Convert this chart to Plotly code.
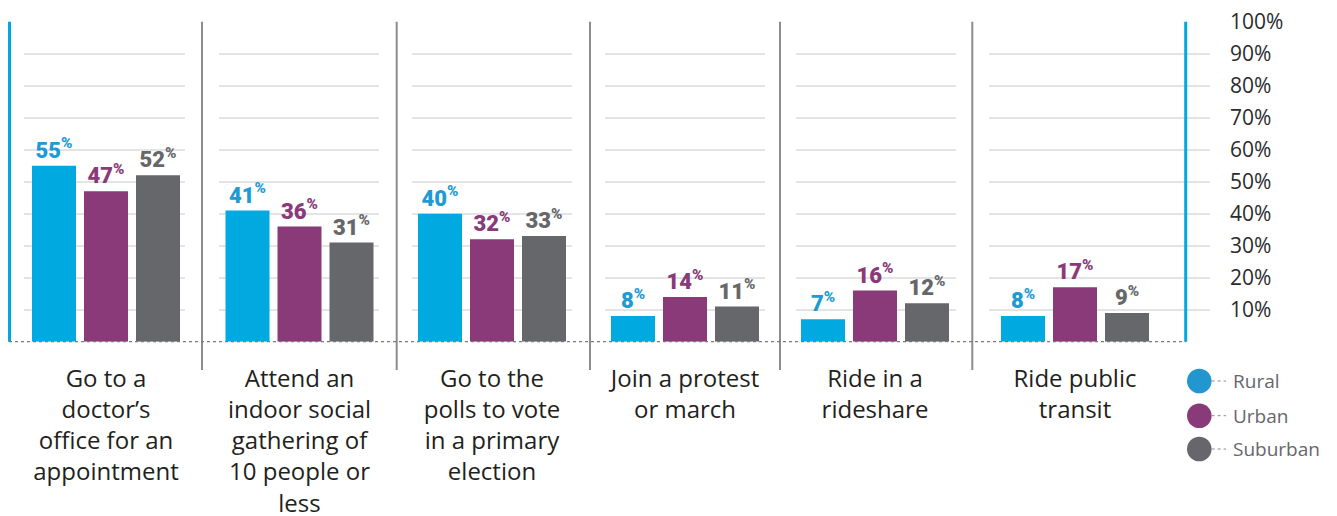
import textwrap
import plotly.graph_objects as go

# ---- data -------------------------------------------------------------
categories = [
    "Go to a doctor’s office for an appointment",
    "Attend an indoor social gathering of 10 people or less",
    "Go to the polls to vote in a primary election",
    "Join a protest or march",
    "Ride in a rideshare",
    "Ride public transit",
]
series_names = ["Rural", "Urban", "Suburban"]
rural = [55, 41, 40, 8, 7, 8]
urban = [47, 36, 32, 14, 16, 17]
suburban = [52, 31, 33, 11, 12, 9]
tick_values = [10, 20, 30, 40, 50, 60, 70, 80, 90, 100]
tick_labels = ["10%", "20%", "30%", "40%", "50%", "60%", "70%", "80%", "90%", "100%"]

series_values = [rural, urban, suburban]

# ---- styling ----------------------------------------------------------
bar_colors = ["#00a9df", "#8a3a79", "#66676b"]
label_colors = ["#1e9bd5", "#8a3a79", "#66676b"]
legend_colors = ["#2196cf", "#893a78", "#66666c"]
TEXT_FONT = "Open Sans"
VALUE_FONT = "Roboto Black, Roboto"

W, H = 1337, 516


def px(x):
    return x / W


def py(y):
    return 1 - y / H


Y_TOP, Y_BASE = 21.7, 341.7
Y_DOMAIN = [py(Y_BASE), py(Y_TOP)]

# panel extents (gridline span) and group centres, in pixels
panel_spans = [(24, 185), (219, 379), (412, 572), (605, 765), (796, 956), (989, 1210)]
panel_centres = [106, 299.5, 492, 685, 875, 1075]
GROUP_PX = 156  # width of one category slot (3 bars of 44px + gaps)

wrapped = ["<br>".join(textwrap.wrap(c, width=14)) for c in categories]

fig = go.Figure()

for i, cat in enumerate(wrapped):
    for j, name in enumerate(series_names):
        v = series_values[j][i]
        fig.add_trace(go.Bar(
            x=[cat],
            y=[v],
            name=name,
            xaxis=f"x{i + 1}",
            yaxis=f"y{i + 1}",
            marker=dict(color=bar_colors[j], line=dict(width=0)),
            text=[f"{v}<sup>%</sup>"],
            textposition="outside",
            constraintext="none",
            cliponaxis=False,
            textfont=dict(family=VALUE_FONT, size=22, color=label_colors[j], weight=900),
            showlegend=False,
            hoverinfo="skip",
        ))

layout = dict(
    template="none",
    width=W,
    height=H,
    margin=dict(l=0, r=0, t=0, b=0, autoexpand=False),
    paper_bgcolor="white",
    plot_bgcolor="white",
    barmode="group",
    bargap=0,
    bargroupgap=8 / 52,
    showlegend=False,
)

for i, ((g0, g1), c) in enumerate(zip(panel_spans, panel_centres)):
    n = "" if i == 0 else str(i + 1)
    layout[f"xaxis{n}"] = dict(
        domain=[px(g0), px(g1)],
        anchor=f"y{n}" if n else "y",
        range=[-(c - g0) / GROUP_PX, (g1 - c) / GROUP_PX],
        automargin=False,
        showgrid=False,
        zeroline=False,
        showline=False,
        ticks="",
        tickfont=dict(family=TEXT_FONT, size=24, color="#231f20"),
        ticklabelstandoff=20,
        fixedrange=True,
    )
    last = i == len(panel_spans) - 1
    layout[f"yaxis{n}"] = dict(
        domain=Y_DOMAIN,
        anchor=f"x{n}" if n else "x",
        range=[0, 100],
        automargin=False,
        tickvals=tick_values,
        ticktext=tick_labels,
        showticklabels=last,
        side="right" if last else "left",
        ticks="",
        ticklabelstandoff=19,
        tickfont=dict(family=TEXT_FONT, size=21, color="#2b2b2b"),
        showgrid=True,
        gridcolor="#e4e4e4",
        gridwidth=1.5,
        zeroline=False,
        showline=False,
        fixedrange=True,
    )

shapes = []
# panel separators
for sx in [202, 396.7, 590, 780, 972.3]:
    shapes.append(dict(type="line", xref="paper", yref="paper",
                       x0=px(sx), x1=px(sx), y0=py(Y_TOP), y1=py(370),
                       line=dict(color="#8c8c8c", width=2), layer="above"))
# outer blue rules
for sx in [9.5, 1185.7]:
    shapes.append(dict(type="line", xref="paper", yref="paper",
                       x0=px(sx), x1=px(sx), y0=py(Y_TOP), y1=py(Y_BASE),
                       line=dict(color="#00a9df", width=3), layer="above"))
# dotted baseline
shapes.append(dict(type="line", xref="paper", yref="paper",
                   x0=px(9), x1=px(1186), y0=py(Y_BASE), y1=py(Y_BASE),
                   line=dict(color="#7a7a7a", width=1.2, dash="dot"), layer="above"))

# legend: circle, dotted leader, label
annotations = []
legend_rows = [381, 415.7, 449]
R = 12.3
for name, col, ly in zip(series_names, legend_colors, legend_rows):
    cx = 1199.3
    shapes.append(dict(type="circle", xref="paper", yref="paper",
                       x0=px(cx - R), x1=px(cx + R), y0=py(ly + R), y1=py(ly - R),
                       fillcolor=col, line=dict(width=0)))
    shapes.append(dict(type="line", xref="paper", yref="paper",
                       x0=px(cx + R), x1=px(1226), y0=py(ly), y1=py(ly),
                       line=dict(color="#8a8a8a", width=1, dash="dot")))
    annotations.append(dict(text=name, xref="paper", yref="paper",
                            x=px(1231), y=py(ly), xanchor="left", yanchor="middle",
                            showarrow=False,
                            font=dict(family=TEXT_FONT, size=19, color="#66666e")))

layout["shapes"] = shapes
layout["annotations"] = annotations
fig.update_layout(**layout)

fig.write_html("out.html", config={"displayModeBar": False})
